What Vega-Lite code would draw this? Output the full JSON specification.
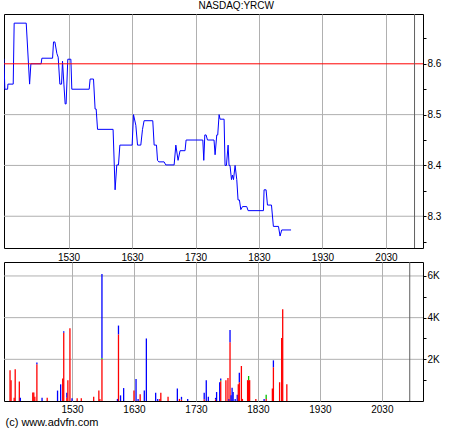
{
  "$schema": "https://vega.github.io/schema/vega-lite/v6.json",
  "background": "white",
  "padding": {"left": 3, "top": 1, "right": 0, "bottom": 0},
  "config": {
    "font": "Liberation Sans",
    "view": {"stroke": "black", "strokeWidth": 1},
    "axis": {"labelFont": "Liberation Sans", "labelFontSize": 10, "labelColor": "black", "gridColor": "#b0b0b0", "gridWidth": 1, "domain": false}
  },
  "title": {"text": "NASDAQ:YRCW", "font": "Liberation Sans", "fontSize": 10, "fontWeight": "normal", "anchor": "middle", "dx": 14, "offset": 2, "color": "black"},
  "datasets": {
    "price": [
      {"t": 868.9, "p": 8.61}, {"t": 869.8, "p": 8.55}, {"t": 872.4, "p": 8.55}, {"t": 872.7, "p": 8.56},
      {"t": 877.7, "p": 8.56}, {"t": 878.6, "p": 8.68}, {"t": 890.0, "p": 8.68}, {"t": 893.2, "p": 8.56},
      {"t": 894.4, "p": 8.6}, {"t": 904.1, "p": 8.6}, {"t": 904.8, "p": 8.611}, {"t": 914.9, "p": 8.611},
      {"t": 915.8, "p": 8.643}, {"t": 917.1, "p": 8.643}, {"t": 919.0, "p": 8.62}, {"t": 920.2, "p": 8.613},
      {"t": 921.8, "p": 8.56}, {"t": 923.4, "p": 8.56}, {"t": 924.3, "p": 8.605}, {"t": 925.6, "p": 8.56},
      {"t": 926.8, "p": 8.521}, {"t": 927.7, "p": 8.521}, {"t": 929.3, "p": 8.609}, {"t": 932.2, "p": 8.609},
      {"t": 933.1, "p": 8.55}, {"t": 949.5, "p": 8.55}, {"t": 950.4, "p": 8.57}, {"t": 953.6, "p": 8.57},
      {"t": 955.1, "p": 8.511}, {"t": 956.1, "p": 8.511}, {"t": 957.4, "p": 8.471}, {"t": 972.1, "p": 8.471},
      {"t": 974.0, "p": 8.352}, {"t": 975.6, "p": 8.401}, {"t": 977.2, "p": 8.401}, {"t": 978.5, "p": 8.44},
      {"t": 990.1, "p": 8.44}, {"t": 991.4, "p": 8.5}, {"t": 993.6, "p": 8.479}, {"t": 995.2, "p": 8.44},
      {"t": 998.3, "p": 8.44}, {"t": 999.9, "p": 8.471}, {"t": 1001.4, "p": 8.488}, {"t": 1009.6, "p": 8.488},
      {"t": 1010.9, "p": 8.44}, {"t": 1013.1, "p": 8.44}, {"t": 1014.1, "p": 8.41}, {"t": 1015.3, "p": 8.407},
      {"t": 1020.3, "p": 8.407}, {"t": 1021.9, "p": 8.401}, {"t": 1029.8, "p": 8.401}, {"t": 1031.4, "p": 8.44},
      {"t": 1033.5, "p": 8.41}, {"t": 1035.4, "p": 8.429}, {"t": 1040.1, "p": 8.429}, {"t": 1041.1, "p": 8.45},
      {"t": 1056.9, "p": 8.45}, {"t": 1057.8, "p": 8.41}, {"t": 1058.8, "p": 8.46}, {"t": 1060.0, "p": 8.46},
      {"t": 1061.3, "p": 8.45}, {"t": 1067.5, "p": 8.45}, {"t": 1068.5, "p": 8.421}, {"t": 1070.1, "p": 8.46},
      {"t": 1071.0, "p": 8.46}, {"t": 1072.3, "p": 8.5}, {"t": 1073.2, "p": 8.491}, {"t": 1077.0, "p": 8.491},
      {"t": 1077.9, "p": 8.4}, {"t": 1079.2, "p": 8.4}, {"t": 1080.8, "p": 8.44}, {"t": 1081.7, "p": 8.4},
      {"t": 1082.6, "p": 8.4}, {"t": 1084.0, "p": 8.372}, {"t": 1084.9, "p": 8.381}, {"t": 1085.9, "p": 8.372},
      {"t": 1087.4, "p": 8.4}, {"t": 1089.0, "p": 8.372}, {"t": 1090.2, "p": 8.332}, {"t": 1091.5, "p": 8.332},
      {"t": 1092.8, "p": 8.313}, {"t": 1094.4, "p": 8.319}, {"t": 1098.4, "p": 8.319}, {"t": 1099.7, "p": 8.311},
      {"t": 1114.2, "p": 8.311}, {"t": 1114.8, "p": 8.352}, {"t": 1116.7, "p": 8.352}, {"t": 1118.0, "p": 8.322},
      {"t": 1121.8, "p": 8.322}, {"t": 1123.6, "p": 8.28}, {"t": 1128.4, "p": 8.28}, {"t": 1129.9, "p": 8.261},
      {"t": 1131.5, "p": 8.273}, {"t": 1140.3, "p": 8.273}
    ],
    "volume": [
      {"t": 870, "v": 1470, "k": "down"}, {"t": 871, "v": 990, "k": "down"}, {"t": 874, "v": 150, "k": "down"},
      {"t": 875, "v": 1520, "k": "down"}, {"t": 879, "v": 940, "k": "down"}, {"t": 880, "v": 160, "k": "up"},
      {"t": 892, "v": 410, "k": "down"}, {"t": 893, "v": 410, "k": "down"}, {"t": 894, "v": 200, "k": "down"},
      {"t": 896, "v": 1760, "k": "down"}, {"t": 896, "v": 90, "k": "up"}, {"t": 901, "v": 150, "k": "up"},
      {"t": 906, "v": 150, "k": "down"}, {"t": 916, "v": 500, "k": "up"}, {"t": 919, "v": 800, "k": "up"},
      {"t": 921, "v": 1080, "k": "down"}, {"t": 922, "v": 3280, "k": "down"}, {"t": 922, "v": 70, "k": "up"},
      {"t": 925, "v": 150, "k": "down"}, {"t": 925, "v": 250, "k": "up"}, {"t": 926, "v": 990, "k": "down"},
      {"t": 928, "v": 3490, "k": "down"}, {"t": 930, "v": 130, "k": "up"}, {"t": 935, "v": 130, "k": "down"},
      {"t": 939, "v": 130, "k": "down"}, {"t": 951, "v": 200, "k": "down"}, {"t": 956, "v": 500, "k": "down"},
      {"t": 957, "v": 100, "k": "down"}, {"t": 959, "v": 2000, "k": "down"}, {"t": 959, "v": 60, "k": "flat"},
      {"t": 959, "v": 4040, "k": "up"}, {"t": 974, "v": 100, "k": "up"}, {"t": 975, "v": 3200, "k": "down"},
      {"t": 975, "v": 420, "k": "up"}, {"t": 977, "v": 270, "k": "up"}, {"t": 980, "v": 620, "k": "up"},
      {"t": 990, "v": 500, "k": "down"}, {"t": 992, "v": 1050, "k": "up"}, {"t": 994, "v": 100, "k": "up"},
      {"t": 996, "v": 320, "k": "down"}, {"t": 1000, "v": 500, "k": "up"}, {"t": 1002, "v": 3000, "k": "up"},
      {"t": 1011, "v": 400, "k": "up"}, {"t": 1013, "v": 100, "k": "up"}, {"t": 1015, "v": 100, "k": "down"},
      {"t": 1016, "v": 400, "k": "down"}, {"t": 1023, "v": 200, "k": "down"}, {"t": 1032, "v": 600, "k": "up"},
      {"t": 1034, "v": 100, "k": "down"}, {"t": 1036, "v": 60, "k": "down"}, {"t": 1036, "v": 140, "k": "up"},
      {"t": 1042, "v": 100, "k": "up"}, {"t": 1058, "v": 80, "k": "down"}, {"t": 1058, "v": 320, "k": "up"},
      {"t": 1060, "v": 1000, "k": "up"}, {"t": 1062, "v": 200, "k": "up"}, {"t": 1069, "v": 80, "k": "down"},
      {"t": 1069, "v": 70, "k": "up"}, {"t": 1070, "v": 430, "k": "up"}, {"t": 1073, "v": 900, "k": "up"},
      {"t": 1074, "v": 950, "k": "down"}, {"t": 1074, "v": 50, "k": "flat"}, {"t": 1074, "v": 80, "k": "up"},
      {"t": 1079, "v": 1000, "k": "down"}, {"t": 1081, "v": 1100, "k": "down"}, {"t": 1082, "v": 100, "k": "up"},
      {"t": 1083, "v": 2820, "k": "down"}, {"t": 1083, "v": 590, "k": "up"}, {"t": 1084, "v": 270, "k": "up"},
      {"t": 1085, "v": 640, "k": "up"}, {"t": 1086, "v": 430, "k": "up"}, {"t": 1088, "v": 100, "k": "up"},
      {"t": 1090, "v": 300, "k": "up"}, {"t": 1091, "v": 800, "k": "down"}, {"t": 1092, "v": 900, "k": "down"},
      {"t": 1092, "v": 450, "k": "up"}, {"t": 1094, "v": 1680, "k": "down"}, {"t": 1095, "v": 100, "k": "down"},
      {"t": 1100, "v": 1000, "k": "down"}, {"t": 1101, "v": 1000, "k": "down"}, {"t": 1101, "v": 200, "k": "flat"},
      {"t": 1102, "v": 1000, "k": "down"}, {"t": 1108, "v": 100, "k": "down"}, {"t": 1116, "v": 100, "k": "up"},
      {"t": 1118, "v": 100, "k": "down"}, {"t": 1118, "v": 200, "k": "flat"}, {"t": 1124, "v": 600, "k": "down"},
      {"t": 1125, "v": 1620, "k": "down"}, {"t": 1125, "v": 330, "k": "up"}, {"t": 1131, "v": 900, "k": "down"},
      {"t": 1133, "v": 3020, "k": "down"}, {"t": 1134, "v": 4400, "k": "down"}, {"t": 1138, "v": 800, "k": "down"}
    ]
  },
  "vconcat": [
    {
      "width": 419,
      "height": 234,
      "resolve": {"axis": {"x": "independent", "y": "independent"}},
      "layer": [
        {
          "data": {"values": [{"g": 8.3}, {"g": 8.4}, {"g": 8.5}]},
          "mark": {"type": "rule", "color": "#b0b0b0", "strokeWidth": 1},
          "encoding": {"y": {"field": "g", "type": "quantitative", "axis": null}}
        },
        {
          "data": {"name": "price"},
          "mark": {"type": "line", "color": "#0000ff", "strokeWidth": 1, "clip": true},
          "encoding": {
            "x": {"field": "t", "type": "quantitative", "scale": {"domain": [869, 1265], "nice": false, "zero": false},
              "axis": {"title": null, "orient": "bottom", "values": [930, 990, 1050, 1110, 1170, 1230], "labelExpr": "floor(datum.value/60)*100 + datum.value%60", "ticks": false, "labelPadding": 4, "grid": true}},
            "y": {"field": "p", "type": "quantitative", "scale": {"domain": [8.2375, 8.698], "nice": false, "zero": false},
              "axis": {"title": null, "orient": "right", "values": [8.25, 8.3, 8.35, 8.4, 8.45, 8.5, 8.55, 8.6, 8.65], "labelExpr": "round(datum.value*100) % 10 == 0 ? format(datum.value, '.1f') : ''", "tickSize": 3, "tickColor": "black", "labelPadding": 1, "grid": false}}
          }
        },
        {
          "data": {"values": [{}]},
          "mark": {"type": "rule", "color": "#ff0000", "strokeWidth": 1},
          "encoding": {"y": {"datum": 8.6, "type": "quantitative", "axis": null}}
        },
        {
          "data": {"values": [{}]},
          "mark": {"type": "rule", "color": "#606060", "strokeWidth": 1},
          "encoding": {"x": {"datum": 1257, "type": "quantitative", "axis": null}}
        }
      ]
    },
    {
      "width": 419,
      "height": 139,
      "resolve": {"axis": {"x": "independent", "y": "independent"}},
      "layer": [
        {
          "data": {"values": [{"g": 2000}, {"g": 4000}, {"g": 6000}]},
          "mark": {"type": "rule", "color": "#b0b0b0", "strokeWidth": 1},
          "encoding": {"y": {"field": "g", "type": "quantitative", "axis": null}}
        },
        {
          "data": {"name": "volume"},
          "mark": {"type": "bar", "size": 1.3},
          "encoding": {
            "x": {"field": "t", "type": "quantitative", "scale": {"domain": [869, 1265], "nice": false, "zero": false},
              "axis": {"orient": "bottom", "values": [930, 990, 1050, 1110, 1170, 1230], "labelExpr": "floor(datum.value/60)*100 + datum.value%60", "ticks": false, "labelPadding": 3, "grid": true,
                "title": "(c) www.advfn.com", "titleFont": "Liberation Sans", "titleFontSize": 11, "titleFontWeight": "normal", "titleColor": "black", "titleAnchor": "start", "titleAlign": "left", "titleBaseline": "middle", "titleX": 1, "titleY": 21}},
            "y": {"field": "v", "type": "quantitative", "stack": "zero", "scale": {"domain": [0, 6670], "nice": false},
              "axis": {"title": null, "orient": "right", "values": [1000, 2000, 3000, 4000, 5000, 6000], "labelExpr": "datum.value % 2000 == 0 ? (datum.value/1000) + 'K' : ''", "tickSize": 3, "tickColor": "black", "labelPadding": 1, "grid": false}},
            "color": {"field": "k", "type": "nominal", "scale": {"domain": ["down", "flat", "up"], "range": ["#ff0000", "#00c000", "#0000ff"]}, "legend": null},
            "order": {"field": "k", "sort": "ascending"}
          }
        },
        {
          "data": {"values": [{}]},
          "mark": {"type": "rule", "color": "#606060", "strokeWidth": 1},
          "encoding": {"x": {"datum": 1257, "type": "quantitative", "axis": null}}
        }
      ]
    }
  ],
  "spacing": 14,
  "bounds": "flush"
}
